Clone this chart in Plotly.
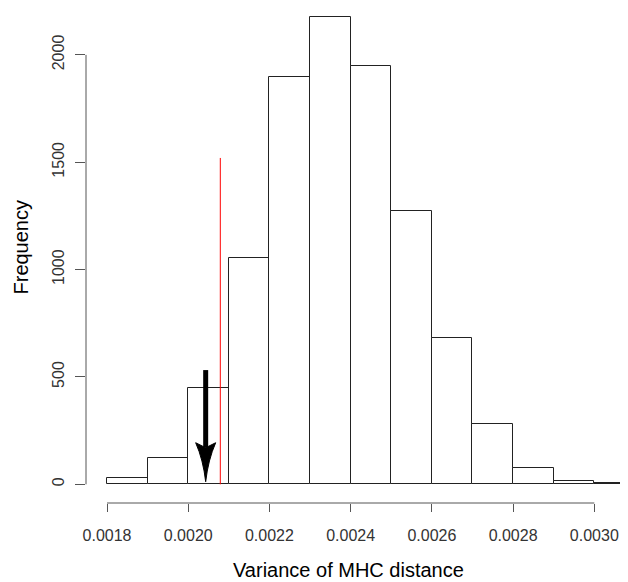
import plotly.graph_objects as go

# ---- data ----
bin_starts = [0.0018, 0.0019, 0.0020, 0.0021, 0.0022, 0.0023, 0.0024,
              0.0025, 0.0026, 0.0027, 0.0028, 0.0029, 0.0030]
bin_width = 0.0001
counts = [28, 121, 447, 1053, 1896, 2178, 1950, 1273, 680, 281, 76, 14, 4]

x_tick_vals = [0.0018, 0.0020, 0.0022, 0.0024, 0.0026, 0.0028, 0.0030]
x_tick_text = ["0.0018", "0.0020", "0.0022", "0.0024", "0.0026", "0.0028", "0.0030"]
y_tick_vals = [0, 500, 1000, 1500, 2000]
y_tick_text = ["0", "500", "1000", "1500", "2000"]

observed_x = 0.002079      # red line
observed_top = 1520
arrow_x = 0.002043         # black arrow
arrow_top = 532
arrow_tip = 12

x_title = "Variance of MHC distance"
y_title = "Frequency"

# ---- layout geometry (page has an 8px body margin) ----
OFF = 8
W, H = 628 - OFF, 582 - OFF
ML, MR, MT, MB = 86 - OFF, 0, 0, 79
PW, PH = W - ML - MR, H - MT - MB
xs = 406100.0            # px per x unit
ys = 0.2147              # px per y unit
x_lo = 0.0018 - (107 - 86) / xs
x_range = [x_lo, x_lo + PW / xs]
y_hi = (484.3 - OFF) / ys
y_range = [y_hi - PH / ys, y_hi]

centers = [s + bin_width / 2 for s in bin_starts]

fig = go.Figure()
fig.add_trace(go.Bar(
    x=centers, y=counts, width=[bin_width] * len(counts),
    marker=dict(color="white", line=dict(color="#222", width=1)),
    hoverinfo="skip", showlegend=False,
))

font = "Liberation Sans, Arial, sans-serif"
axis_col = "#555"

shapes = [
    dict(type="line", xref="paper", yref="y", x0=0, x1=0,
         y0=y_tick_vals[0], y1=y_tick_vals[-1], line=dict(color=axis_col, width=1)),
    dict(type="line", xref="x", yref="paper", x0=x_tick_vals[0], x1=x_tick_vals[-1],
         y0=0, y1=0, line=dict(color=axis_col, width=1)),
    dict(type="line", xref="x", yref="y", x0=observed_x, x1=observed_x,
         y0=0, y1=observed_top, line=dict(color="red", width=1)),
]

head_len_px, head_half_px, notch_px = 39, 10, 5
head_base = arrow_tip + head_len_px / ys
shapes.append(dict(type="line", xref="x", yref="y", x0=arrow_x, x1=arrow_x,
                   y0=arrow_top, y1=head_base - notch_px / ys,
                   line=dict(color="black", width=5)))
hw = head_half_px / xs
cx = 2.5 / xs
path = (f"M {arrow_x - hw},{head_base} "
        f"Q {arrow_x - cx},{arrow_tip + 22 / ys} {arrow_x},{arrow_tip} "
        f"Q {arrow_x + cx},{arrow_tip + 22 / ys} {arrow_x + hw},{head_base} "
        f"L {arrow_x},{head_base - notch_px / ys} Z")
shapes.append(dict(type="path", xref="x", yref="y", path=path,
                   fillcolor="black", line=dict(color="black", width=1)))

def px_to_paper_x(px):
    return (px - OFF - ML) / PW

def px_to_paper_y(py):
    return (MT + PH - (py - OFF)) / PH

annotations = [
    dict(text=x_title, xref="paper", yref="paper",
         x=px_to_paper_x(348.5), y=px_to_paper_y(581.5),
         xanchor="center", yanchor="bottom", showarrow=False, borderpad=0,
         font=dict(family=font, size=20, color="black")),
    dict(text=y_title, xref="paper", yref="paper",
         x=px_to_paper_x(20), y=px_to_paper_y(247.5), textangle=-90,
         xanchor="center", yanchor="middle", showarrow=False,
         font=dict(family=font, size=20, color="black")),
]

fig.update_layout(
    width=W, height=H,
    margin=dict(l=ML, r=MR, t=MT, b=MB, pad=0),
    paper_bgcolor="white", plot_bgcolor="white",
    bargap=0, showlegend=False,
    shapes=shapes, annotations=annotations,
    xaxis=dict(range=x_range, showgrid=False, zeroline=False, showline=False,
               tickmode="array", tickvals=x_tick_vals, ticktext=x_tick_text,
               ticks="outside", ticklen=8, tickwidth=1, tickcolor=axis_col,
               tickfont=dict(family=font, size=16, color="#333"),
               ticklabelstandoff=10),
    yaxis=dict(range=y_range, showgrid=False, zeroline=False, showline=False,
               tickmode="array", tickvals=y_tick_vals, ticktext=y_tick_text,
               ticks="outside", ticklen=10, tickwidth=1, tickcolor=axis_col,
               tickangle=-90,
               tickfont=dict(family=font, size=16, color="#333"),
               ticklabelstandoff=5),
)

fig.write_html("out.html")
